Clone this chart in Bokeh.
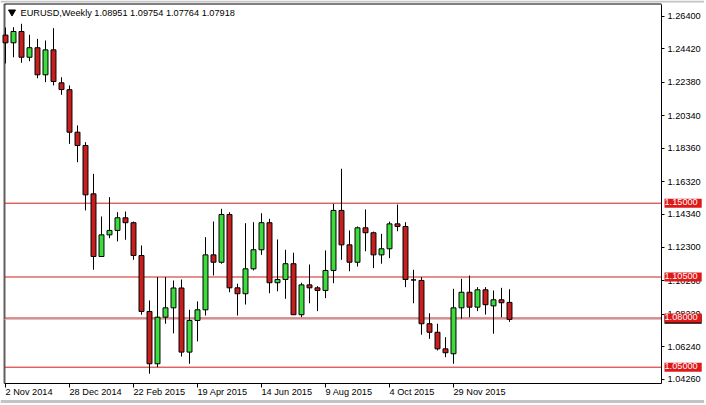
from bokeh.plotting import figure
from bokeh.models import FixedTicker, Label, Range1d, ColumnDataSource, PrintfTickFormatter
from bokeh.embed import file_html
from bokeh.resources import INLINE

# Weekly EURUSD candles (index 0 = week of 2 Nov 2014)
week = list(range(64))
opens = [1.2525, 1.2478, 1.2547, 1.2390, 1.2448, 1.2283, 1.2435, 1.2234, 1.2192, 1.1933,
         1.1852, 1.1557, 1.1175, 1.1307, 1.1334, 1.1411, 1.1381, 1.1181, 1.0840, 1.0521,
         1.0805, 1.0862, 1.0983, 1.0592, 1.0785, 1.0850, 1.1185, 1.1140, 1.1431, 1.0984,
         1.0948, 1.1100, 1.1216, 1.1381, 1.1015, 1.1035, 1.1131, 1.0820, 1.1002, 1.0984,
         1.0968, 1.1090, 1.1456, 1.1246, 1.1140, 1.1350, 1.1320, 1.1185, 1.1222, 1.1374,
         1.1358, 1.1032, 1.1029, 1.0765, 1.0713, 1.0612, 1.0582, 1.0862, 1.0957, 1.0866,
         1.0972, 1.0874, 1.0911, 1.08951]
highs = [1.2571, 1.2573, 1.2594, 1.2527, 1.2502, 1.2492, 1.2567, 1.2268, 1.2218, 1.1974,
         1.1872, 1.1679, 1.1419, 1.1537, 1.1445, 1.1449, 1.1388, 1.1242, 1.0907, 1.1049,
         1.1049, 1.1029, 1.1035, 1.0850, 1.0901, 1.1293, 1.1388, 1.1466, 1.1445, 1.1009,
         1.1378, 1.1384, 1.1439, 1.1405, 1.1279, 1.1216, 1.1198, 1.1015, 1.1126, 1.0994,
         1.1212, 1.1496, 1.1710, 1.1334, 1.1358, 1.1462, 1.1327, 1.1313, 1.1388, 1.1492,
         1.1384, 1.1094, 1.1049, 1.0829, 1.0765, 1.0683, 1.0978, 1.1039, 1.1059, 1.0988,
         1.0988, 1.0968, 1.0984, 1.09754]
lows = [1.2352, 1.2390, 1.2356, 1.2366, 1.2262, 1.2238, 1.2218, 1.2161, 1.1862, 1.1750,
        1.1456, 1.1094, 1.1172, 1.1287, 1.1267, 1.1277, 1.1155, 1.0820, 1.0460, 1.0500,
        1.0765, 1.0706, 1.0565, 1.0521, 1.0657, 1.0815, 1.1059, 1.1131, 1.0957, 1.0815,
        1.0882, 1.1090, 1.1185, 1.0951, 1.0963, 1.0917, 1.0818, 1.0805, 1.0890, 1.0842,
        1.0921, 1.1012, 1.1155, 1.1085, 1.1114, 1.1207, 1.1104, 1.1131, 1.1165, 1.1329,
        1.0988, 1.0890, 1.0698, 1.0673, 1.0602, 1.0561, 1.0521, 1.0795, 1.0805, 1.0842,
        1.0821, 1.0704, 1.0805, 1.07764]
closes = [1.2478, 1.2547, 1.2390, 1.2448, 1.2283, 1.2435, 1.2242, 1.2193, 1.1933, 1.1852,
          1.1551, 1.1175, 1.1307, 1.1334, 1.1411, 1.1381, 1.1181, 1.0840, 1.0521, 1.0805,
          1.0862, 1.0983, 1.0592, 1.0785, 1.0850, 1.1185, 1.1140, 1.1431, 1.0984, 1.0948,
          1.1100, 1.1216, 1.1381, 1.1015, 1.1035, 1.1131, 1.0820, 1.1002, 1.0984, 1.0968,
          1.1090, 1.1456, 1.1246, 1.1140, 1.1350, 1.1320, 1.1185, 1.1222, 1.1374, 1.1358,
          1.1035, 1.1032, 1.0765, 1.0713, 1.0612, 1.0588, 1.0862, 1.0957, 1.0866, 1.0972,
          1.0881, 1.0911, 1.0893, 1.07918]

date_ticks = [0, 8, 16, 24, 32, 40, 48, 56]
date_labels = ["2 Nov 2014", "28 Dec 2014", "22 Feb 2015", "19 Apr 2015",
               "14 Jun 2015", "9 Aug 2015", "4 Oct 2015", "29 Nov 2015"]
price_ticks = [1.26400, 1.24420, 1.22380, 1.20340, 1.18360, 1.16320,
               1.14340, 1.12300, 1.10260, 1.08220, 1.06240, 1.04260]
levels = [1.15, 1.105, 1.08, 1.05]
level_labels = ["1.15000", "1.10500", "1.08000", "1.05000"]
bid = 1.07918
bid_label = "1.07918"
header = "EURUSD,Weekly  1.08951 1.09754 1.07764 1.07918"

GREEN = "#3cdc3c"
RED = "#c81e1e"
LEVEL = "#d01c1c"
FONT = "Liberation Sans"
FS = "9.2px"

W, H = 704, 403
PX_X = 8.0        # pixels per week
PX_Y = 1640.0     # pixels per price unit
X0 = -0.625
X1 = X0 + W / PX_X
Y1 = 1.273598
Y0 = Y1 - H / PX_Y
X_EDGE = 82.0       # price-scale line (right edge of the price panel)
Y_EDGE = 1.040061   # time-scale line (bottom edge of the price panel)
Y_TOP = Y1 - 3.5 / PX_Y
X_LEFT = X0 + 4.0 / PX_X

tops = [max(o, c) for o, c in zip(opens, closes)]
bottoms = [min(o, c) for o, c in zip(opens, closes)]
colors = [GREEN if c > o else (RED if c < o else "black") for o, c in zip(opens, closes)]
src = ColumnDataSource(dict(x=week, o=opens, h=highs, l=lows, c=closes,
                            top=tops, bottom=bottoms, color=colors))

p = figure(width=W, height=H, output_backend="svg", toolbar_location=None,
           x_range=Range1d(X0, X1), y_range=Range1d(Y0, Y1),
           y_axis_location="right", x_axis_location="below",
           min_border_left=0, min_border_top=0, min_border_right=0, min_border_bottom=0)
p.grid.visible = False
p.outline_line_color = None
p.background_fill_color = "white"
p.border_fill_color = "white"

# window frame: light grey strips at top / bottom, dark line at left, black top line
p.quad(left=[X0, X0], right=[X1, X1], top=[Y1, Y1 - 399.5 / PX_Y],
       bottom=[Y1 - 2.0 / PX_Y, Y0], fill_color="#c4c4c4", line_color=None)
p.segment(x0=[X_LEFT], y0=[Y_TOP], x1=[X_LEFT], y1=[Y_EDGE], line_color="#606060", line_width=2)
p.segment(x0=[X_LEFT], y0=[Y_TOP], x1=[X_EDGE], y1=[Y_TOP], line_color="black", line_width=1)

# price scale (right) and time scale (bottom), fixed at the panel edges
p.yaxis.fixed_location = X_EDGE
p.xaxis.fixed_location = Y_EDGE
p.yaxis.bounds = (Y_EDGE, Y_TOP)
p.xaxis.bounds = (X_LEFT, X_EDGE)
p.yaxis.ticker = FixedTicker(ticks=price_ticks)
p.yaxis.formatter = PrintfTickFormatter(format="%.5f")
p.xaxis.ticker = FixedTicker(ticks=date_ticks)
for ax in (p.xaxis, p.yaxis):
    ax.axis_line_color = "black"
    ax.major_tick_line_color = "black"
    ax.major_tick_in = 0
    ax.minor_tick_line_color = None
    ax.major_label_text_font = FONT
    ax.major_label_text_font_size = FS
    ax.major_label_text_color = "black"
p.yaxis.major_tick_out = 3
p.yaxis.major_label_standoff = 3
p.xaxis.major_tick_out = 4
p.xaxis.major_label_text_color = None

# date labels, left-aligned at their ticks (MT4 style)
for t, lbl in zip(date_ticks, date_labels):
    p.add_layout(Label(x=t, y=Y_EDGE, x_offset=0, y_offset=-3, text=lbl, text_font=FONT,
                       text_font_size=FS, text_align="left", text_baseline="top",
                       text_color="black"))

# horizontal levels and bid line
p.segment(x0=[X_LEFT], y0=[bid], x1=[X_EDGE], y1=[bid], line_color="#c0c0c0", line_width=1)
p.segment(x0=[X_LEFT] * len(levels), y0=levels, x1=[X_EDGE] * len(levels), y1=levels,
          line_color=LEVEL, line_width=1)

# candles
p.segment(x0="x", y0="h", x1="x", y1="l", line_color="black", line_width=1, source=src)
p.vbar(x="x", width=0.62, top="top", bottom="bottom", fill_color="color",
       line_color="black", line_width=1, source=src)

# header
p.scatter([0.8125], [1.266586], marker="inverted_triangle", size=7, color="black")
p.add_layout(Label(x=1.875, y=1.265976, text=header, text_font=FONT, text_font_size=FS,
                   text_baseline="middle", text_align="left", text_color="black"))

# price labels on the price scale
p.add_layout(Label(x=X_EDGE, x_offset=3, y=bid, text=bid_label, text_font=FONT,
                   text_font_size=FS, text_color="white", text_baseline="middle",
                   background_fill_color="black", padding=(0, 4, 0, 3)))
for lv, lbl in zip(levels, level_labels):
    p.add_layout(Label(x=X_EDGE, x_offset=3, y=lv, text=lbl, text_font=FONT,
                       text_font_size=FS, text_color="white", text_baseline="middle",
                       background_fill_color="#e01818", padding=(0, 4, 0, 3)))

open("out.html", "w").write(file_html(p, INLINE))
